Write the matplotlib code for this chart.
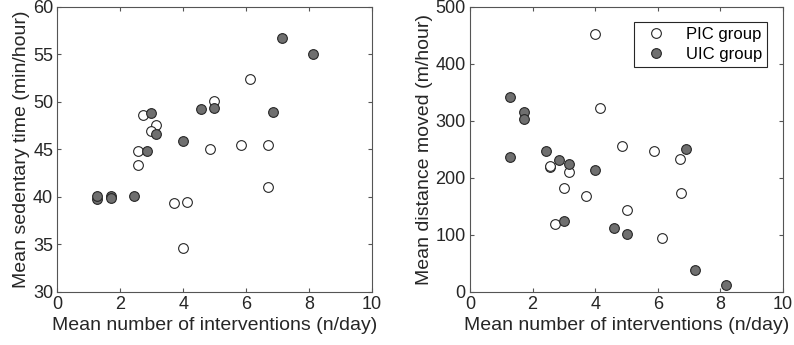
import matplotlib.pyplot as plt

plt.rcParams['font.family'] = ['Liberation Sans', 'DejaVu Sans']

# Left panel: sedentary time
pic_x1 = [2.71, 3.14, 2.97, 2.57, 2.57, 3.71, 4.13, 4.00, 4.85, 4.98, 5.84, 6.13, 6.69, 6.69]
pic_y1 = [48.6, 47.6, 46.9, 44.8, 43.4, 39.4, 39.5, 34.6, 45.0, 50.1, 45.5, 52.4, 45.5, 41.0]
uic_x1 = [1.26, 1.26, 1.71, 1.71, 2.43, 2.85, 2.99, 3.14, 4.00, 4.56, 4.98, 6.84, 7.13, 8.12]
uic_y1 = [39.8, 40.1, 40.1, 39.9, 40.1, 44.8, 48.8, 46.6, 45.9, 49.2, 49.4, 48.9, 56.7, 55.0]

# Right panel: distance moved
pic_x2 = [4.00, 4.16, 4.87, 5.87, 6.72, 6.73, 2.57, 3.15, 3.01, 3.71, 2.72, 5.02, 6.15, 2.57]
pic_y2 = [452, 323, 256, 247, 233, 174, 219, 211, 182, 168, 119, 144, 95, 221]
uic_x2 = [1.28, 1.28, 1.71, 1.71, 2.43, 2.85, 3.15, 3.01, 4.00, 4.59, 5.02, 6.89, 7.18, 8.17]
uic_y2 = [342, 237, 315, 304, 247, 231, 225, 125, 213, 112, 101, 251, 39, 12]

xlabel = 'Mean number of interventions (n/day)'
edge = '#262626'
fill = '#6f6f6f'
spine = '#555555'

fig = plt.figure(figsize=(7.94, 3.45), dpi=100)
ax1 = fig.add_axes([57.3 / 794, 1 - 292 / 345, (372 - 57.3) / 794, (292 - 6.7) / 345])
ax2 = fig.add_axes([470 / 794, 1 - 292 / 345, (783 - 470) / 794, (292 - 6.7) / 345])

for ax, px, py, ux, uy in [(ax1, pic_x1, pic_y1, uic_x1, uic_y1),
                           (ax2, pic_x2, pic_y2, uic_x2, uic_y2)]:
    ax.plot(px, py, 'o', ms=7, mfc='white', mec=edge, mew=0.8, label='PIC group')
    ax.plot(ux, uy, 'o', ms=7, mfc=fill, mec=edge, mew=0.8, label='UIC group')
    ax.set_xlim(0, 10)
    ax.set_xticks(range(0, 11, 2))
    ax.set_xlabel(xlabel, fontsize=14, color='#262626', labelpad=3)
    ax.tick_params(direction='in', top=True, right=True, labelsize=13,
                   colors=spine, labelcolor='#262626', length=3, pad=3)
    for s in ax.spines.values():
        s.set_color(spine)
        s.set_linewidth(0.8)

ax1.set_ylim(30, 60)
ax1.set_yticks(range(30, 61, 5))
ax1.set_ylabel('Mean sedentary time (min/hour)', fontsize=14, color='#262626', labelpad=2)

ax2.set_ylim(0, 500)
ax2.set_yticks(range(0, 501, 100))
ax2.set_ylabel('Mean distance moved (m/hour)', fontsize=14, color='#262626', labelpad=2)

leg = ax2.legend(loc='upper right', fontsize=12, fancybox=False, framealpha=1,
                 edgecolor='#262626', handletextpad=0.8, borderpad=0.3,
                 labelspacing=0.3, bbox_to_anchor=(0.975, 0.975))
leg.get_frame().set_linewidth(0.8)

fig.savefig('out.png', dpi=100)
